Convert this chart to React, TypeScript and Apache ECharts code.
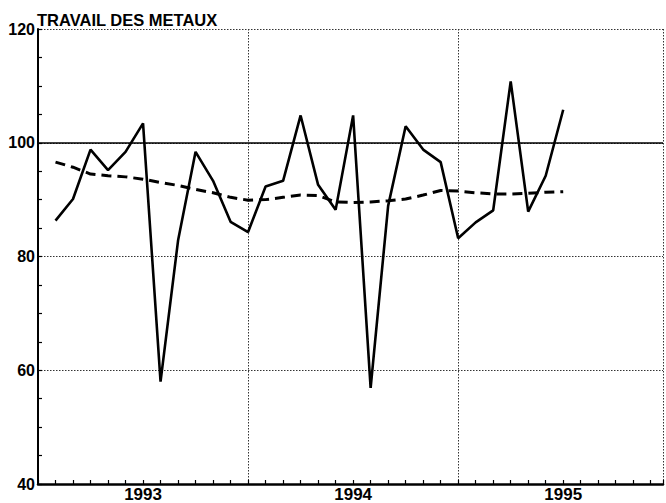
import React, { useEffect, useRef } from "react";
import * as echarts from "echarts";

const title = "TRAVAIL DES METAUX";
const months = [
  "1993-02", "1993-03", "1993-04", "1993-05", "1993-06", "1993-07", "1993-08", "1993-09", "1993-10", "1993-11", "1993-12",
  "1994-01", "1994-02", "1994-03", "1994-04", "1994-05", "1994-06", "1994-07", "1994-08", "1994-09", "1994-10", "1994-11", "1994-12",
  "1995-01", "1995-02", "1995-03", "1995-04", "1995-05", "1995-06", "1995-07",
];
const rawValues = [
  86.3, 90.1, 98.8, 95.2, 98.4, 103.4, 58.0, 82.8, 98.4, 93.3, 86.1,
  84.3, 92.3, 93.3, 104.8, 92.6, 88.2, 104.8, 56.9, 88.9, 102.9, 98.8, 96.6,
  83.2, 86.0, 88.1, 110.8, 87.9, 94.2, 105.8,
];
const trendValues = [
  96.6, 95.7, 94.5, 94.2, 94.0, 93.6, 93.0, 92.5, 91.8, 91.2, 90.4,
  89.9, 90.0, 90.4, 90.8, 90.7, 89.6, 89.5, 89.6, 89.8, 90.1, 90.8, 91.6,
  91.5, 91.2, 91.0, 91.0, 91.1, 91.3, 91.4,
];
const years = ["1993", "1994", "1995"];
const firstYear = 1993;
const yTicks = [40, 60, 80, 100, 120];
const referenceLevel = 100;

const toMonthIndex = (m: string) => {
  const [y, mo] = m.split("-").map(Number);
  return (y - firstYear) * 12 + (mo - 1);
};

export default function App() {
  const ref = useRef<HTMLDivElement>(null);
  useEffect(() => {
    if (!ref.current) return;
    const chart = echarts.init(ref.current, null, { renderer: "svg" });
    const font = "'Liberation Sans', Arial, sans-serif";
    const xMax = 35.7;
    chart.setOption({
      animation: false,
      backgroundColor: "#fff",
      textStyle: { fontFamily: font },
      title: {
        text: title,
        left: 37,
        top: 11,
        padding: 0,
        textStyle: { fontFamily: font, fontSize: 16.5, fontWeight: "bold", color: "#000", lineHeight: 17 },
      },
      grid: { left: 38, right: 0, top: 29, bottom: 16, containLabel: false },
      xAxis: [
        {
          type: "value",
          min: 0,
          max: xMax,
          interval: 1,
          axisLine: { show: true, onZero: false, lineStyle: { color: "#000", width: 2.5 } },
          axisTick: { show: true, inside: true, length: 4, lineStyle: { color: "#000", width: 1.2 } },
          axisLabel: {
            show: true,
            margin: 2,
            color: "#000",
            fontSize: 17,
            fontWeight: "bold",
            fontFamily: font,
            formatter: (v: number) => {
              if (Math.abs(v - Math.round(v)) > 1e-6) return "";
              const r = Math.round(v);
              if (r % 12 === 6) return years[(r - 6) / 12] ?? "";
              return "";
            },
          },
          splitLine: { show: false },
        },
        {
          type: "value",
          min: 0,
          max: xMax,
          interval: 12,
          position: "bottom",
          axisLine: { show: false },
          axisTick: { show: false },
          axisLabel: { show: false },
          splitLine: { show: true, lineStyle: { color: "#333", width: 1, type: [1.5, 1.5] } },
        },
      ],
      yAxis: {
        type: "value",
        min: yTicks[0],
        max: yTicks[yTicks.length - 1],
        interval: 20,
        axisLine: { show: true, lineStyle: { color: "#000", width: 2 } },
        axisTick: { show: true, inside: true, length: 4, lineStyle: { color: "#000", width: 1.2 } },
        minorTick: { show: true, splitNumber: 4, length: 4, lineStyle: { color: "#000", width: 1.2 } },
        axisLabel: { color: "#000", fontSize: 16, fontWeight: "bold", fontFamily: font, margin: 3 },
        splitLine: { show: true, lineStyle: { color: "#333", width: 1, type: [1.5, 1.5] } },
      },
      series: [
        {
          type: "line",
          xAxisIndex: 0,
          data: months.map((m, i) => [toMonthIndex(m), rawValues[i]]),
          showSymbol: false,
          symbol: "none",
          lineStyle: { color: "#000", width: 2.6 },
          z: 3,
          markLine: {
            silent: true,
            symbol: "none",
            label: { show: false },
            lineStyle: { color: "#000", width: 1.5, type: "solid" },
            data: [{ yAxis: referenceLevel }],
          },
        },
        {
          type: "line",
          xAxisIndex: 0,
          data: months.map((m, i) => [toMonthIndex(m), trendValues[i]]),
          showSymbol: false,
          symbol: "none",
          lineStyle: { color: "#000", width: 3, type: [10, 6] },
          z: 2,
        },
      ],
    });
    return () => chart.dispose();
  }, []);
  return <div ref={ref} style={{ width: 666, height: 503, position: "absolute", left: 0, top: 0 }} />;
}
